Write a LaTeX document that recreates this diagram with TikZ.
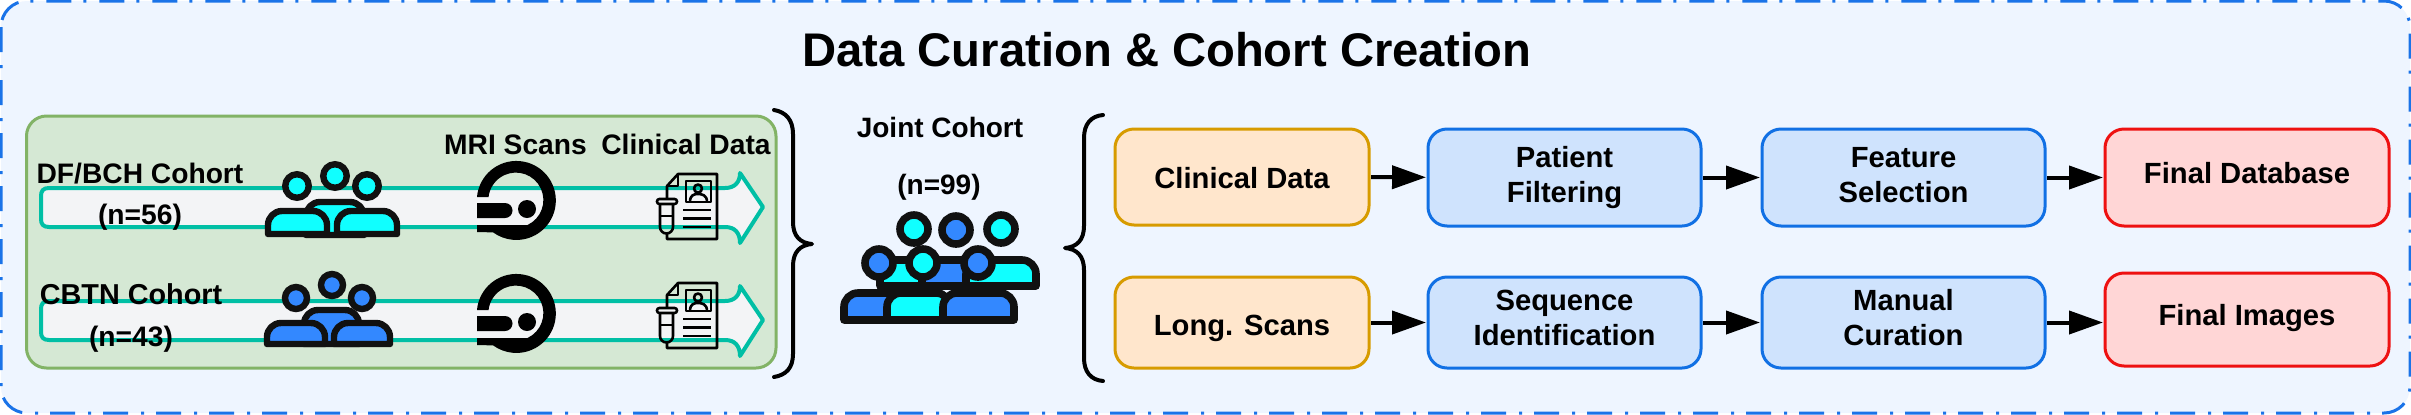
\documentclass[tikz,border=0pt]{standalone}
\usepackage{fontspec}
\setmainfont{Liberation Sans}
\usetikzlibrary{arrows.meta}
\definecolor{pagefill}{HTML}{EEF5FF}
\definecolor{pageline}{HTML}{1A73E8}
\definecolor{panelfill}{HTML}{D5E8D4}
\definecolor{panelline}{HTML}{82B366}
\definecolor{teal}{HTML}{00BFA5}
\definecolor{shaft}{HTML}{F3F4F6}
\definecolor{cyanp}{HTML}{10FFFF}
\definecolor{bluep}{HTML}{3388FF}
\definecolor{inkp}{HTML}{111111}
\definecolor{orfill}{HTML}{FFE6CC}
\definecolor{orline}{HTML}{D79B00}
\definecolor{blfill}{HTML}{CFE3FD}
\definecolor{blline}{HTML}{1170E4}
\definecolor{rdfill}{HTML}{FFD6D6}
\definecolor{rdline}{HTML}{EE1111}
\newcommand\boxtext[2]{\raisebox{#1}[0pt][0pt]{\begin{tabular}[t]{@{}c@{}}#2\end{tabular}}}
\newcommand\pbody[6]{\draw[line width=#6,draw=inkp,fill=#5,line join=round] (#1,#4) [rounded corners=7pt] -- (#1,#3) -- (#2,#3) [sharp corners] -- (#2,#4) -- cycle;}
\newcommand\phead[5]{\draw[line width=#5,draw=inkp,fill=#4] (#1,#2) circle[radius=#3];}
\newcommand\mriicon{%
  \fill[black] (477,197) arc[start angle=185,end angle=486,radius=39.5]
     -- (477,232) -- (477,225) -- (527.5,225) arc[start angle=425,end angle=186,radius=27.5] -- cycle;
  \fill[black] (477,203) -- (505,203) arc[start angle=-90,end angle=90,radius=7.5] -- (477,218) -- cycle;
  \fill[black] (527,209) circle[radius=9];
}
\newcommand\docicon{%
  \begin{scope}[line width=1.3pt,draw=black,line join=round]
  \draw (667,198) -- (667,186) -- (678,174) -- (717,174) -- (717,239) -- (667,239) -- (667,232);
  \draw (667,186) -- (678,186) -- (678,174);
  \draw (686,181) rectangle (711,202);
  \draw (698,188.5) circle[radius=4];
  \draw (690,202) .. controls (690,195) and (694,194) .. (698,194) .. controls (702,194) and (707,195) .. (707,202);
  \draw (683,210) -- (711,210) (683,218.5) -- (711,218.5) (683,227) -- (711,227);
  \draw[rounded corners=1.2pt] (657,199) rectangle (677,204);
  \draw (660,204) -- (660,227) arc[start angle=180,end angle=0,radius=6.5] -- (673,204);
  \draw (660,216) -- (673,216);
  \end{scope}
}
\newcommand\bigarrow{%
  \draw[line width=2pt,draw=teal,fill=shaft,line join=round]
    (49,188) -- (725,188) .. controls (735,188) and (740,182) .. (740,173)
    -- (763,207) -- (740,243) .. controls (740,233) and (735,227) .. (725,227)
    -- (49,227) .. controls (43,227) and (41,224) .. (41,219) -- (41,196)
    .. controls (41,191) and (43,188) .. (49,188) -- cycle;
}
\tikzset{
  flow/.style={draw,line width=1.5pt,rounded corners=9.5pt,inner sep=0pt,outer sep=0pt,align=center,
    font=\fontsize{14.6}{17.5}\selectfont\bfseries,text=black},
  srcbox/.style={flow,draw=orline,fill=orfill},
  stepbox/.style={flow,draw=blline,fill=blfill},
  endbox/.style={flow,draw=rdline,fill=rdfill},
  lbl/.style={anchor=base,inner sep=0pt,outer sep=0pt,text=black,font=\fontsize{14.1}{17}\selectfont\bfseries},
  arr/.style={line width=2pt,draw=black,-{Triangle[length=17pt,width=11.5pt]},shorten <=1pt,shorten >=1pt},
  brace/.style={line width=2pt,draw=black,line cap=round,line join=round},
}
\begin{document}
\begin{tikzpicture}[x=0.5pt,y=-0.5pt]
\useasboundingbox (0,0) rectangle (2411,414);
\path[fill=pagefill,rounded corners=13pt] (1,1) rectangle (2410,413);
\draw[draw=pageline,line width=1.5pt,rounded corners=13pt,dash pattern=on 12.5pt off 6.5pt on 1.5pt off 6pt] (1,1) rectangle (2410,413);
\node[lbl,font=\fontsize{23.6}{27}\selectfont\bfseries] (title) at (1167,66) {Data Curation \& Cohort Creation};

% source panel
\draw[line width=1.5pt,draw=panelline,fill=panelfill,rounded corners=10pt] (26.5,116) rectangle (776,368);
\bigarrow
\begin{scope}[yshift=-56.5pt]\bigarrow\end{scope}

% first cohort icon
\pbody{306}{364}{202}{235}{cyanp}{3.2pt}
\pbody{268}{327}{211}{234}{cyanp}{3.2pt}
\pbody{337}{397}{211}{234}{cyanp}{3.2pt}
\phead{335}{176}{11.75}{cyanp}{3.2pt}
\phead{297}{186}{11.75}{cyanp}{3.2pt}
\phead{367}{186}{11.75}{cyanp}{3.2pt}
% second cohort icon
\pbody{304}{359}{310}{344}{bluep}{3.2pt}
\pbody{267}{325}{323}{344}{bluep}{3.2pt}
\pbody{334}{390}{323}{344}{bluep}{3.2pt}
\phead{332}{285}{11}{bluep}{3.2pt}
\phead{296}{298}{11}{bluep}{3.2pt}
\phead{362}{298}{11}{bluep}{3.2pt}

\mriicon
\begin{scope}[yshift=-56.5pt]\mriicon\end{scope}
\docicon
\begin{scope}[yshift=-54.5pt]\docicon\end{scope}

\node[lbl] (dfbch) at (140,183) {DF/BCH Cohort};
\node[lbl] (n56) at (140,224) {(n=56)};
\node[lbl,font=\fontsize{14.4}{17}\selectfont\bfseries] (cbtn) at (131,304) {CBTN Cohort};
\node[lbl] (n43) at (131,346) {(n=43)};
\node[lbl] (mri) at (515.5,154) {MRI Scans};
\node[lbl] (clin) at (686,154) {Clinical Data};

% braces
\coordinate (rbt) at (774,110);
\coordinate (rbtip) at (812,244);
\coordinate (rbb) at (774,377);
\draw[brace] (rbt) .. controls (786,112) and (793,120) .. (793,134) -- (793,222)
  .. controls (793,236) and (800,243) .. (rbtip) .. controls (800,245) and (793,252) .. (793,266)
  -- (793,354) .. controls (793,368) and (786,375) .. (rbb);
\coordinate (lbt) at (1103,115);
\coordinate (lbtip) at (1065,248);
\coordinate (lbb) at (1103,381);
\draw[brace] (lbt) .. controls (1091,116) and (1084,124) .. (1084,138) -- (1084,226)
  .. controls (1084,240) and (1077,247) .. (lbtip) .. controls (1077,249) and (1084,256) .. (1084,270)
  -- (1084,358) .. controls (1084,372) and (1091,380) .. (lbb);

% joint cohort
\node[lbl,font=\fontsize{14}{17}\selectfont\bfseries] (joint) at (940,137) {Joint Cohort};
\node[lbl,font=\fontsize{14}{17}\selectfont\bfseries] (n99) at (939,194) {(n=99)};
\pbody{880}{975}{260}{286}{cyanp}{3.8pt}
\pbody{922}{980}{260}{286}{bluep}{3.8pt}
\pbody{966}{1036}{260}{286}{cyanp}{3.8pt}
\phead{914}{229}{14}{cyanp}{3.8pt}
\phead{956}{230}{14}{bluep}{3.8pt}
\phead{1001}{229}{14}{cyanp}{3.8pt}
\pbody{844}{950}{293}{320}{bluep}{3.8pt}
\pbody{887}{950}{293}{320}{cyanp}{3.8pt}
\pbody{943}{1014}{293}{320}{bluep}{3.8pt}
\phead{879}{263}{14}{bluep}{3.8pt}
\phead{923}{263}{14}{cyanp}{3.8pt}
\phead{978}{263}{14}{bluep}{3.8pt}

% flow boxes
\node[srcbox,minimum width=127pt,minimum height=48pt] (cd) at (1242,177) {\boxtext{-5.5pt}{Clinical Data}};
\node[stepbox,minimum width=136.5pt,minimum height=48.5pt] (pf) at (1564.5,177.5) {\boxtext{5.25pt}{Patient\\Filtering}};
\node[stepbox,minimum width=141.5pt,minimum height=48.5pt] (fs) at (1903.5,177.5) {\boxtext{5.25pt}{Feature\\Selection}};
\node[endbox,minimum width=142pt,minimum height=48.5pt] (db) at (2247,177.5) {\boxtext{-2.9pt}{Final Database}};
\node[srcbox,minimum width=127pt,minimum height=45.5pt] (ls) at (1242,322.5) {\boxtext{-6.25pt}{Long. Scans}};
\node[stepbox,minimum width=136.5pt,minimum height=45.5pt] (si) at (1564.5,322.5) {\boxtext{6.25pt}{Sequence\\Identification}};
\node[stepbox,minimum width=141.5pt,minimum height=45.5pt] (mc) at (1903.5,322.5) {\boxtext{6.25pt}{Manual\\Curation}};
\node[endbox,minimum width=142pt,minimum height=46.5pt] (fi) at (2247,319.5) {\boxtext{-3.1pt}{Final Images}};

\draw[arr] (cd) -- (pf);
\draw[arr] (pf) -- (fs);
\draw[arr] (fs) -- (db);
\draw[arr] (ls) -- (si);
\draw[arr] (si) -- (mc);
\draw[arr] (mc.east) -- (mc.east -| fi.west);
\end{tikzpicture}
\end{document}
